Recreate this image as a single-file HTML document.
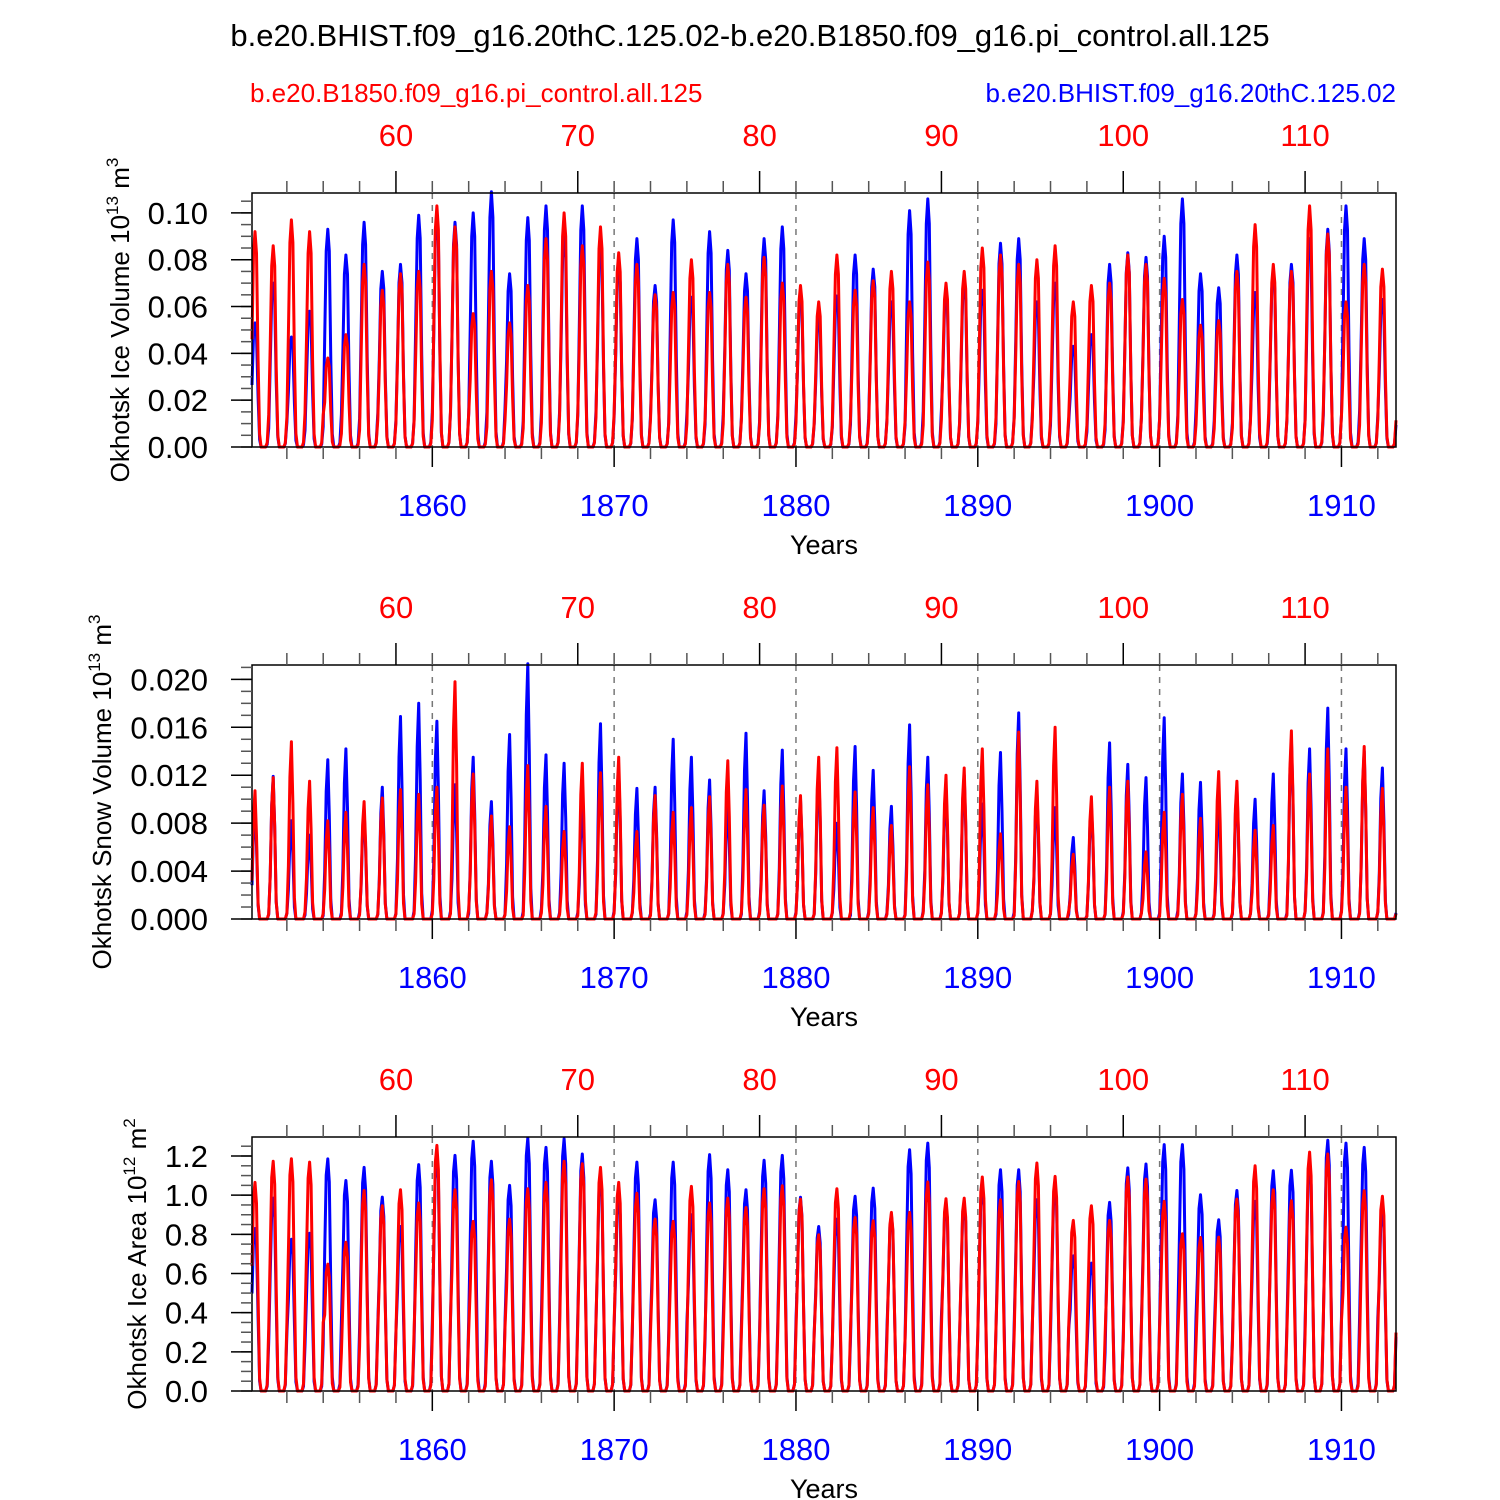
<!DOCTYPE html>
<html><head><meta charset="utf-8"><style>
body{margin:0;background:#fff}
svg{display:block;font-family:"Liberation Sans",Arial,sans-serif}
</style></head><body>
<svg id="chart" width="1500" height="1500" viewBox="0 0 1500 1500">
<text x="750" y="46" text-anchor="middle" font-size="31">b.e20.BHIST.f09_g16.20thC.125.02-b.e20.B1850.f09_g16.pi_control.all.125</text>
<text x="250" y="102" font-size="26" fill="#f00">b.e20.B1850.f09_g16.pi_control.all.125</text>
<text x="1396" y="102" font-size="26" fill="#00f" text-anchor="end">b.e20.BHIST.f09_g16.20thC.125.02</text>
</svg>
<script>
// ---- data: annual peak values (one per year 1850..1912) ----
const years = Array.from({length:63},(_,i)=>1850+i);
const iceVolBlue = [0.053,0.070,0.047,0.058,0.093,0.082,0.096,0.075,0.078,0.099,0.098,0.096,0.100,0.109,0.074,0.098,0.103,0.090,0.103,0.085,0.078,0.089,0.069,0.097,0.064,0.092,0.084,0.074,0.089,0.094,0.065,0.055,0.0645,0.082,0.076,0.062,0.101,0.106,0.065,0.070,0.067,0.087,0.089,0.062,0.070,0.043,0.048,0.078,0.083,0.081,0.090,0.106,0.074,0.068,0.082,0.066,0.075,0.078,0.089,0.093,0.103,0.089,0.063];
const iceVolRed  = [0.092,0.086,0.097,0.092,0.038,0.048,0.078,0.067,0.074,0.075,0.103,0.094,0.057,0.075,0.053,0.069,0.089,0.100,0.086,0.094,0.083,0.078,0.065,0.066,0.080,0.066,0.078,0.064,0.081,0.070,0.069,0.062,0.082,0.067,0.071,0.075,0.062,0.079,0.070,0.075,0.085,0.082,0.078,0.080,0.086,0.062,0.069,0.070,0.082,0.078,0.072,0.063,0.052,0.054,0.075,0.095,0.078,0.075,0.103,0.091,0.062,0.078,0.076];
const snowBlue = [0.0094,0.0119,0.0082,0.0070,0.0133,0.0142,0.0091,0.0110,0.0169,0.0180,0.0165,0.0112,0.0135,0.0098,0.0154,0.0213,0.0137,0.0130,0.0096,0.0163,0.0125,0.0109,0.0110,0.0150,0.0135,0.0116,0.0096,0.0155,0.0107,0.0141,0.0100,0.0125,0.0080,0.0144,0.0124,0.0094,0.0162,0.0135,0.0110,0.0120,0.0096,0.0139,0.0172,0.0107,0.0093,0.0068,0.0095,0.0147,0.0129,0.0118,0.0168,0.0121,0.0114,0.0098,0.0110,0.0100,0.0121,0.0150,0.0142,0.0176,0.0142,0.0140,0.0126];
const snowRed  = [0.0107,0.0118,0.0148,0.0115,0.0082,0.0089,0.0098,0.0101,0.0108,0.0104,0.0110,0.0198,0.0121,0.0086,0.0077,0.0128,0.0094,0.0073,0.0130,0.0122,0.0135,0.0073,0.0103,0.0089,0.0093,0.0102,0.0132,0.0108,0.0095,0.0111,0.0103,0.0135,0.0143,0.0106,0.0093,0.0078,0.0127,0.0112,0.0120,0.0126,0.0142,0.0071,0.0156,0.0115,0.0160,0.0054,0.0102,0.0110,0.0115,0.0056,0.0089,0.0104,0.0084,0.0123,0.0115,0.0074,0.0078,0.0157,0.0121,0.0142,0.0110,0.0144,0.0109];
const areaBlue = [0.83,0.985,0.775,0.806,1.185,1.075,1.142,0.99,0.84,1.156,1.20,1.203,1.275,1.173,1.05,1.292,1.244,1.289,1.21,1.10,1.00,1.169,0.977,1.169,0.90,1.207,1.13,1.028,1.178,1.203,0.989,0.84,0.878,0.994,1.036,0.90,1.232,1.266,0.96,0.96,1.05,1.13,1.13,0.977,1.05,0.69,0.653,0.963,1.139,1.159,1.258,1.258,1.002,0.874,1.024,0.968,1.125,1.127,1.17,1.28,1.266,1.244,0.925];
const areaRed  = [1.065,1.173,1.186,1.169,0.648,0.76,1.024,0.946,1.028,0.96,1.254,1.028,0.866,1.079,0.878,1.033,1.065,1.173,1.16,1.142,1.065,1.01,0.878,0.866,1.045,0.96,0.985,0.937,1.033,1.048,0.98,0.798,1.033,0.886,0.869,0.912,0.912,1.067,0.982,0.985,1.093,0.977,1.07,1.164,1.096,0.871,0.946,0.871,1.093,1.082,0.968,0.803,0.784,0.786,0.98,1.15,1.028,0.971,1.22,1.21,0.837,1.023,0.994];
// monthly seasonal fraction of annual peak (Jan..Dec)
const volShape  = [0.5,0.9,1.0,0.9,0.4,0.06,0,0,0,0,0.02,0.15];
const snowShape = [0.3,0.8,1.0,0.65,0.12,0,0,0,0,0,0,0.04];
const areaShape = [0.6,0.93,1.0,0.9,0.45,0.06,0,0,0,0,0.03,0.3];
const bottomTicks = [1860,1870,1880,1890,1900,1910];
const topTickLabels = [60,70,80,90,100,110];
const iceVolTicks = [0,0.02,0.04,0.06,0.08,0.10];
const snowTicks = [0,0.004,0.008,0.012,0.016,0.020];
const areaTicks = [0,0.2,0.4,0.6,0.8,1.0,1.2];

const svg = document.getElementById('chart');
const NS = 'http://www.w3.org/2000/svg';
function mk(tag, attrs, parent){const e=document.createElementNS(NS,tag);for(const k in attrs)e.setAttribute(k,attrs[k]);(parent||svg).appendChild(e);return e;}
const X0=252,X1=1396,T0=1850+1/12,T1=1913;
const xs = t => X0 + (t-T0)*(X1-X0)/(T1-T0);

function panel(cfg){
  const {top,bot,ymax,ticks,minor,fmt,blue,red,shape,title,tx,name} = cfg;
  const ys = v => bot - v/ymax*(bot-top);
  const g = mk('g',{});
  
  
  bottomTicks.forEach(yr=>{
    const l=mk('line',{x1:xs(yr),x2:xs(yr),y1:top,y2:bot,stroke:'#777','stroke-width':1.5,'stroke-dasharray':'6,6'},g);
    
    
  });
  [[blue,'#00f','blue-series'],[red,'#f00','red-series']].forEach(([arr,col,nm])=>{
    let d='';
    arr.forEach((pk,k)=>{shape.forEach((f,m)=>{
      const t=years[k]+(m+1)/12;
      d+=(d?'L':'M')+xs(t).toFixed(1)+','+ys(pk*f).toFixed(1);
    });});
    const p=mk('path',{d:d,fill:'none',stroke:col,'stroke-width':3,'stroke-linejoin':'round'},g);
    
    
  });
  const r=mk('rect',{x:X0,y:top,width:X1-X0,height:bot-top,fill:'none',stroke:'#000','stroke-width':1.5},g);
  
  
  for(let yr=1852; yr<=1912; yr+=2){
    const maj = yr%10===0;
    mk('line',{x1:xs(yr),x2:xs(yr),y1:bot,y2:bot+(maj?20:12),stroke:maj?'#000':'#555','stroke-width':1.5},g);
    const majT = (yr-1798)%10===0;
    mk('line',{x1:xs(yr),x2:xs(yr),y1:top,y2:top-(majT?22:12),stroke:majT?'#000':'#555','stroke-width':1.5},g);
  }
  bottomTicks.forEach(yr=>{
    const t=mk('text',{x:xs(yr),y:bot+69,'text-anchor':'middle','font-size':31,fill:'#00f'},g);
    t.textContent=yr;
    
    
  });
  topTickLabels.forEach(v=>{
    const t=mk('text',{x:xs(v+1798),y:top-47,'text-anchor':'middle','font-size':31,fill:'#f00'},g);
    t.textContent=v;
    
    
  });
  const xt=mk('text',{x:824,y:bot+107,'text-anchor':'middle','font-size':27},g);
  xt.textContent='Years';
  
  
  for(let v=0; v<=ymax+1e-9; v+=minor){
    mk('line',{x1:X0,x2:X0-11,y1:ys(v),y2:ys(v),stroke:'#555','stroke-width':1.5},g);
  }
  ticks.forEach(v=>{
    mk('line',{x1:X0,x2:X0-21,y1:ys(v),y2:ys(v),stroke:'#000','stroke-width':1.5},g);
    const t=mk('text',{x:208,y:ys(v)+11,'text-anchor':'end','font-size':31},g);
    t.textContent=v.toFixed(fmt);
    
    
  });
  const cy=(top+bot)/2;
  const yt=mk('text',{x:tx,y:cy,'text-anchor':'middle','font-size':26,transform:`rotate(-90 ${tx} ${cy})`},g);
  yt.innerHTML=title;
  
  
}
panel({name:'ice-volume',top:193,bot:447,ymax:0.1085,ticks:iceVolTicks,minor:0.005,fmt:2,blue:iceVolBlue,red:iceVolRed,shape:volShape,tx:129,
  title:'Okhotsk Ice Volume 10<tspan dy="-11" font-size="17">13</tspan><tspan dy="11"> m</tspan><tspan dy="-11" font-size="17">3</tspan>'});
panel({name:'snow-volume',top:665,bot:919,ymax:0.0212,ticks:snowTicks,minor:0.001,fmt:3,blue:snowBlue,red:snowRed,shape:snowShape,tx:111,
  title:'Okhotsk Snow Volume 10<tspan dy="-11" font-size="17">13</tspan><tspan dy="11"> m</tspan><tspan dy="-11" font-size="17">3</tspan>'});
panel({name:'ice-area',top:1137,bot:1391,ymax:1.297,ticks:areaTicks,minor:0.05,fmt:1,blue:areaBlue,red:areaRed,shape:areaShape,tx:146,
  title:'Okhotsk Ice Area 10<tspan dy="-11" font-size="17">12</tspan><tspan dy="11"> m</tspan><tspan dy="-11" font-size="17">2</tspan>'});
</script>
</body></html>
